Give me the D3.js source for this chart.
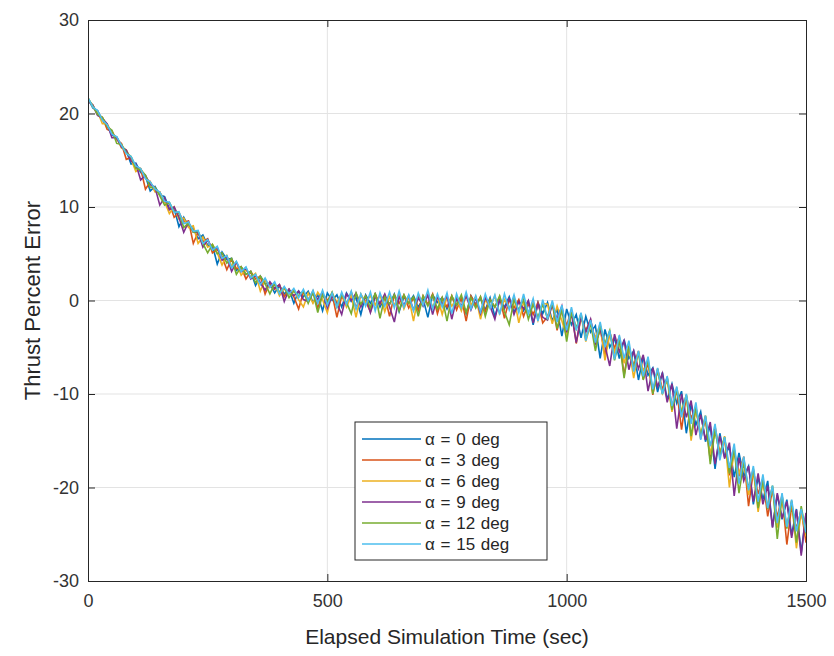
<!DOCTYPE html>
<html>
<head>
<meta charset="utf-8">
<script src="https://cdn.jsdelivr.net/npm/d3@7/dist/d3.min.js"></script>
<style>
  body { margin: 0; background: #fff; }
  svg { display: block; font-family: "Liberation Sans", Arial, sans-serif; }
</style>
</head>
<body>
<div id="chart"></div>
<script>
// sample times (sec), one every 10 s
var times = d3.range(0, 1501, 10);

var seriesNames = ["\u03b1 = 0 deg", "\u03b1 = 3 deg", "\u03b1 = 6 deg", "\u03b1 = 9 deg", "\u03b1 = 12 deg", "\u03b1 = 15 deg"];
var seriesColors = ["#0072BD", "#D95319", "#EDB120", "#7E2F8E", "#77AC30", "#4DBEEE"];

var alpha0 = [21.6,20.6,20.3,19.3,18.7,17.7,17.5,16.5,16.0,14.6,14.7,13.7,13.3,11.7,12.2,11.3,
  11.1,9.8,9.9,7.9,8.9,7.9,7.7,6.6,7.0,5.9,5.9,3.9,5.2,4.4,4.5,3.2,3.6,2.8,3.1,1.6,2.6,1.8,1.8,0.8,1.6,0.7,1.2,-0.3,1.0,0.4,
  1.0,-0.2,0.6,-1.1,0.8,0.0,0.6,-0.7,0.8,-0.1,0.3,-1.5,0.6,-0.3,0.7,-0.7,0.3,-0.4,0.7,-1.2,0.4,-0.3,0.5,-0.7,0.2,-1.8,0.6,-0.2,0.3,-0.9,
  0.4,-0.5,0.2,-1.4,0.5,-0.4,0.2,-1.0,0.3,-1.7,0.0,-0.7,0.4,-1.3,0.0,-1.1,-0.1,-2.6,-0.2,-1.4,
  -0.2,-2.2,-0.9,-3.8,-0.9,-2.6,-1.5,-4.0,-1.7,-3.4,-2.7,-6.2,-3.1,-5.0,-4.0,-6.2,-4.2,-6.2,-5.4,-8.5,-6.0,-8.0,-7.2,-9.8,-7.7,
  -10.6,-8.9,-11.0,-9.7,-14.2,-11.1,-13.3,-11.9,-15.1,-13.4,-18.0,-14.2,-16.7,-15.6,-18.9,-16.3,-18.8,-17.7,-21.8,-18.9,
  -21.3,-19.3,-24.2,-20.8,-23.4,-21.3,-25.1,-22.3,-27.0,-22.8];

var alpha3 = [21.4,20.9,19.9,19.6,18.3,18.1,17.2,16.8,15.1,15.3,14.3,14.1,11.9,12.7,11.7,11.6,
  10.5,10.4,8.9,9.4,8.4,8.5,6.1,7.3,6.3,6.6,5.1,5.5,4.7,3.3,4.4,3.4,3.6,2.3,3.1,2.3,2.6,0.7,1.9,1.2,1.7,0.4,1.2,0.4,-0.9,0.9,
  0.1,1.0,-0.8,0.7,0.0,0.7,-1.8,0.5,-0.5,0.9,-0.8,0.5,-0.1,-1.2,0.7,-0.4,0.5,-1.7,0.6,-0.3,0.6,-0.8,0.3,-1.1,0.5,-0.4,0.7,-1.4,0.3,-0.7,
  0.5,-1.0,0.3,-2.2,0.5,-0.5,0.4,-1.2,0.1,-0.7,0.4,-1.9,0.1,-0.8,0.1,-1.7,-0.3,-1.5,-0.2,-2.4,
  -1.7,-0.3,-3.2,-1.0,-2.7,-1.0,-4.6,-1.8,-3.2,-2.1,-4.7,-3.0,-5.9,-3.4,-5.1,-3.9,-8.0,-5.0,-7.0,-5.4,-8.4,-6.7,-10.1,-7.3,-9.5,
  -8.3,-11.3,-9.6,-13.8,-10.2,-12.6,-11.4,-14.8,-12.6,-17.1,-13.5,-16.3,-14.8,-18.7,-16.2,-18.8,-16.7,-22.0,-18.3,-20.7,
  -19.0,-23.1,-20.2,-23.2,-20.8,-26.1,-22.0,-24.4,-22.4,-25.9];

var alpha6 = [21.7,20.7,20.2,18.9,18.9,17.9,17.4,16.3,16.1,15.1,13.8,14.1,13.1,12.7,11.6,11.6,
  10.6,9.3,10.0,8.7,8.8,7.8,8.0,6.1,6.8,5.7,6.0,5.1,3.8,4.8,3.7,4.1,2.7,3.3,2.5,2.9,1.0,2.2,1.4,1.8,0.5,1.3,0.6,1.1,0.1,-0.7,
  0.8,-0.3,0.9,0.1,-1.3,0.8,-0.2,0.7,-0.7,0.5,-1.8,0.7,-0.2,0.5,-0.5,0.6,-1.2,0.4,-0.5,0.7,-0.9,0.4,-2.2,0.5,-0.3,0.6,-0.7,0.4,-1.5,0.4,
  -0.6,0.2,-1.1,0.5,-0.5,0.4,-2.0,0.1,-0.8,0.5,-1.4,0.1,-0.8,0.3,-2.4,-0.2,-1.3,-0.2,-2.1,-0.3,
  -0.4,-2.5,-0.6,-2.2,-3.8,-1.1,-3.0,-1.5,-4.4,-2.5,-4.0,-2.5,-6.4,-3.6,-5.5,-4.0,-6.7,-5.0,-8.3,-5.5,-7.5,-6.5,-9.7,-7.5,-9.9,
  -8.5,-11.9,-9.3,-11.9,-10.1,-15.0,-11.6,-14.3,-12.3,-16.5,-13.9,-16.5,-14.5,-20.0,-16.0,-18.5,-16.9,-20.8,-18.1,-22.6,
  -19.4,-22.1,-19.9,-24.3,-21.2,-24.2,-21.5,-26.5,-22.6,-25.2];

var alpha9 = [21.3,20.9,19.8,19.5,18.9,17.4,17.4,16.4,16.1,14.9,14.6,12.9,13.4,12.4,12.1,10.2,
  11.0,9.7,10.0,8.9,7.3,8.4,7.3,7.3,5.7,6.5,5.5,5.7,4.3,4.7,3.1,4.1,3.1,3.5,2.3,2.7,1.9,1.1,2.0,1.3,1.7,-0.1,1.2,0.5,1.0,0.1,
  -0.1,0.8,0.1,0.9,-0.8,0.5,-0.3,-1.5,0.7,0.0,0.8,-0.7,0.5,-1.3,0.4,-0.3,0.7,-0.7,-2.3,0.4,-0.5,0.5,-1.0,0.3,-0.6,0.6,-1.5,0.4,-0.4,0.5,
  -2.0,0.2,-0.6,0.5,-1.0,0.3,-1.4,0.3,-0.6,-2.0,0.2,-0.9,0.2,-1.5,-0.1,-0.9,0.0,-2.4,-0.4,-1.8,
  -2.1,-0.5,-2.0,-0.6,-3.4,-1.4,-4.5,-1.7,-3.4,-2.0,-4.6,-3.1,-4.8,-7.0,-3.6,-5.5,-4.3,-7.4,-5.4,-7.3,-5.8,-9.7,-7.2,-9.2,-7.8,
  -10.9,-8.9,-13.7,-10.0,-12.5,-10.7,-14.4,-12.2,-14.9,-13.0,-17.5,-14.5,-16.9,-15.2,-20.9,-16.8,-19.3,-17.7,-21.5,-18.5,
  -21.8,-19.8,-24.3,-20.6,-23.3,-21.5,-25.4,-22.4,-27.3,-22.7];

var alpha12 = [21.6,20.8,19.9,19.6,18.6,18.2,16.8,16.7,15.8,15.4,14.1,14.0,13.4,12.1,12.1,11.2,
  10.2,10.5,9.5,9.4,7.8,8.3,7.3,7.4,6.1,5.1,6.0,5.0,5.1,4.0,4.5,2.8,3.6,2.8,3.1,1.9,2.6,1.8,0.7,1.8,0.9,1.4,0.3,1.0,0.5,1.0,
  -0.3,0.9,-1.3,0.6,-0.2,0.9,-0.7,0.6,-0.2,-1.4,0.8,-0.4,0.5,-0.8,0.8,-1.9,0.4,-0.4,0.6,-1.1,0.6,-0.3,0.4,-1.7,0.5,-0.6,0.6,-0.9,0.3,-2.2,
  0.5,-0.5,0.6,-1.3,0.3,-0.8,0.4,-1.7,0.1,-0.7,0.5,-1.2,-2.6,0.1,-1.0,0.1,-2.0,-0.4,-1.8,-0.4,
  -1.9,-0.2,-3.0,-0.9,-4.4,-1.2,-3.0,-1.4,-4.1,-2.4,-5.4,-2.7,-4.6,-3.2,-6.4,-4.2,-8.3,-4.8,-7.1,-5.7,-8.5,-6.2,-10.0,-7.4,-10.0,
  -8.2,-11.7,-9.5,-12.1,-10.1,-14.5,-11.4,-14.5,-12.4,-17.5,-13.9,-16.6,-14.6,-18.5,-15.9,-20.6,-17.3,-20.1,-18.0,-22.2,
  -19.2,-22.3,-19.8,-25.5,-20.9,-24.4,-21.4,-25.9,-22.0,-24.9];

var alpha15 = [21.7,20.7,20.3,19.3,18.8,17.8,17.5,16.6,15.7,15.4,14.4,14.1,13.0,12.7,11.9,11.6,
  10.6,10.5,9.4,9.5,8.2,8.4,7.4,7.5,6.1,6.5,5.4,5.8,4.5,4.8,3.5,4.2,3.1,3.6,2.4,2.8,1.7,2.4,1.4,2.0,0.7,1.5,0.7,1.3,0.3,1.2,
  0.0,1.1,-0.3,1.1,-0.5,0.8,-0.7,0.9,-0.4,1.0,-0.9,0.7,-0.6,0.9,-1.1,0.8,-0.6,0.9,-0.8,1.0,-0.7,0.6,-1.1,0.8,-0.5,1.1,-0.9,0.7,-0.7,0.8,
  -1.4,0.7,-0.8,0.9,-0.9,0.5,-1.2,0.7,-0.8,0.6,-1.5,0.7,-1.0,0.6,-1.3,0.7,-1.4,0.2,-2.2,0.1,
  -2.0,0.0,-2.3,-0.5,-3.2,-0.7,-3.2,-1.3,-4.3,-2.1,-4.5,-2.3,-5.0,-3.2,-6.3,-3.7,-6.2,-4.3,-7.6,-5.4,-8.1,-6.0,-9.5,-7.2,-10.0,
  -8.1,-11.3,-9.2,-12.5,-10.0,-13.2,-10.9,-14.9,-12.3,-15.6,-13.2,-17.1,-14.6,-17.9,-15.3,-19.6,-16.7,-20.3,-17.7,-21.5,
  -18.6,-22.2,-19.8,-23.8,-20.6,-24.2,-21.3,-24.7,-22.3,-24.8];

var allSeries = [alpha0, alpha3, alpha6, alpha9, alpha12, alpha15];

var xTicks = [0, 500, 1000, 1500];
var yTicks = [-30, -20, -10, 0, 10, 20, 30];

// layout
var W = 834, H = 656;
var margin = { top: 20, right: 28, bottom: 75, left: 88 },
  width = W - margin.left - margin.right,
  height = H - margin.top - margin.bottom;

var svg = d3.select("#chart").append("svg")
  .attr("width", W)
  .attr("height", H);

svg.append("rect").attr("width", W).attr("height", H).attr("fill", "#fff");

var g = svg.append("g")
  .attr("transform", "translate(" + margin.left + "," + margin.top + ")");

var x = d3.scaleLinear().domain([0, 1500]).range([0, width]);
var y = d3.scaleLinear().domain([-30, 30]).range([height, 0]);

var axisColor = "#262626";
// plain hyphen minus like matlab
var fmt = function (d) { return String(d); };

// grid lines
g.append("g").selectAll("line").data(xTicks.slice(1, -1)).enter().append("line")
  .attr("x1", function (d) { return x(d); }).attr("x2", function (d) { return x(d); })
  .attr("y1", 0).attr("y2", height)
  .attr("stroke", "#e3e3e3").attr("stroke-width", 1);
g.append("g").selectAll("line").data(yTicks.slice(1, -1)).enter().append("line")
  .attr("y1", function (d) { return y(d); }).attr("y2", function (d) { return y(d); })
  .attr("x1", 0).attr("x2", width)
  .attr("stroke", "#e3e3e3").attr("stroke-width", 1);

// series lines
svg.append("clipPath").attr("id", "plotclip").append("rect")
  .attr("width", width).attr("height", height);

var line = d3.line()
  .x(function (d, i) { return x(times[i]); })
  .y(function (d) { return y(d); });

g.append("g").attr("clip-path", "url(#plotclip)")
  .selectAll("path").data(allSeries).enter().append("path")
  .attr("d", line)
  .attr("fill", "none")
  .attr("stroke", function (d, i) { return seriesColors[i]; })
  .attr("stroke-width", 1.6)
  .attr("stroke-linejoin", "miter");

// axes (ticks inside, mirrored on top/right like matlab box)
var tickLen = 7;
var xAxis = d3.axisBottom(x).tickValues(xTicks).tickSize(-tickLen).tickPadding(13).tickFormat(fmt);
var yAxis = d3.axisLeft(y).tickValues(yTicks).tickSize(-tickLen).tickPadding(9).tickFormat(fmt);

var gx = g.append("g").attr("transform", "translate(0," + height + ")").call(xAxis);
var gy = g.append("g").call(yAxis);
var gxTop = g.append("g").call(d3.axisTop(x).tickValues(xTicks).tickSize(-tickLen).tickFormat(""));
var gyRight = g.append("g").attr("transform", "translate(" + width + ",0)")
  .call(d3.axisRight(y).tickValues(yTicks).tickSize(-tickLen).tickFormat(""));

[gx, gy, gxTop, gyRight].forEach(function (a) {
  a.select(".domain").attr("stroke", axisColor).attr("stroke-width", 1);
  a.selectAll(".tick line").attr("stroke", axisColor);
  a.selectAll(".tick text").attr("fill", "#333").style("font-size", "18px")
    .style("font-family", "'Liberation Sans', Arial, sans-serif");
});

// axis labels
svg.append("text")
  .attr("x", margin.left + width / 2)
  .attr("y", 644)
  .attr("text-anchor", "middle")
  .attr("fill", axisColor)
  .style("font-size", "21px")
  .text("Elapsed Simulation Time (sec)");

svg.append("text")
  .attr("transform", "translate(40," + (margin.top + height / 2) + ") rotate(-90)")
  .attr("text-anchor", "middle")
  .attr("fill", axisColor)
  .style("font-size", "22px")
  .text("Thrust Percent Error");

// legend
var legX = 355, legY = 422, legW = 192, legH = 138, rowH = 21;
var leg = svg.append("g").attr("transform", "translate(" + legX + "," + legY + ")");
leg.append("rect")
  .attr("width", legW).attr("height", legH)
  .attr("fill", "#fff").attr("stroke", axisColor).attr("stroke-width", 1);

var rows = leg.selectAll("g.row").data(seriesNames).enter().append("g")
  .attr("class", "row")
  .attr("transform", function (d, i) { return "translate(0," + (17 + i * rowH) + ")"; });

rows.append("line")
  .attr("x1", 7).attr("x2", 66)
  .attr("stroke", function (d, i) { return seriesColors[i]; })
  .attr("stroke-width", 1.3);

rows.append("text")
  .attr("x", 70).attr("dy", "0.35em")
  .attr("fill", axisColor)
  .style("font-size", "17px")
  .style("word-spacing", "1px")
  .text(function (d) { return d; });
</script>
</body>
</html>
